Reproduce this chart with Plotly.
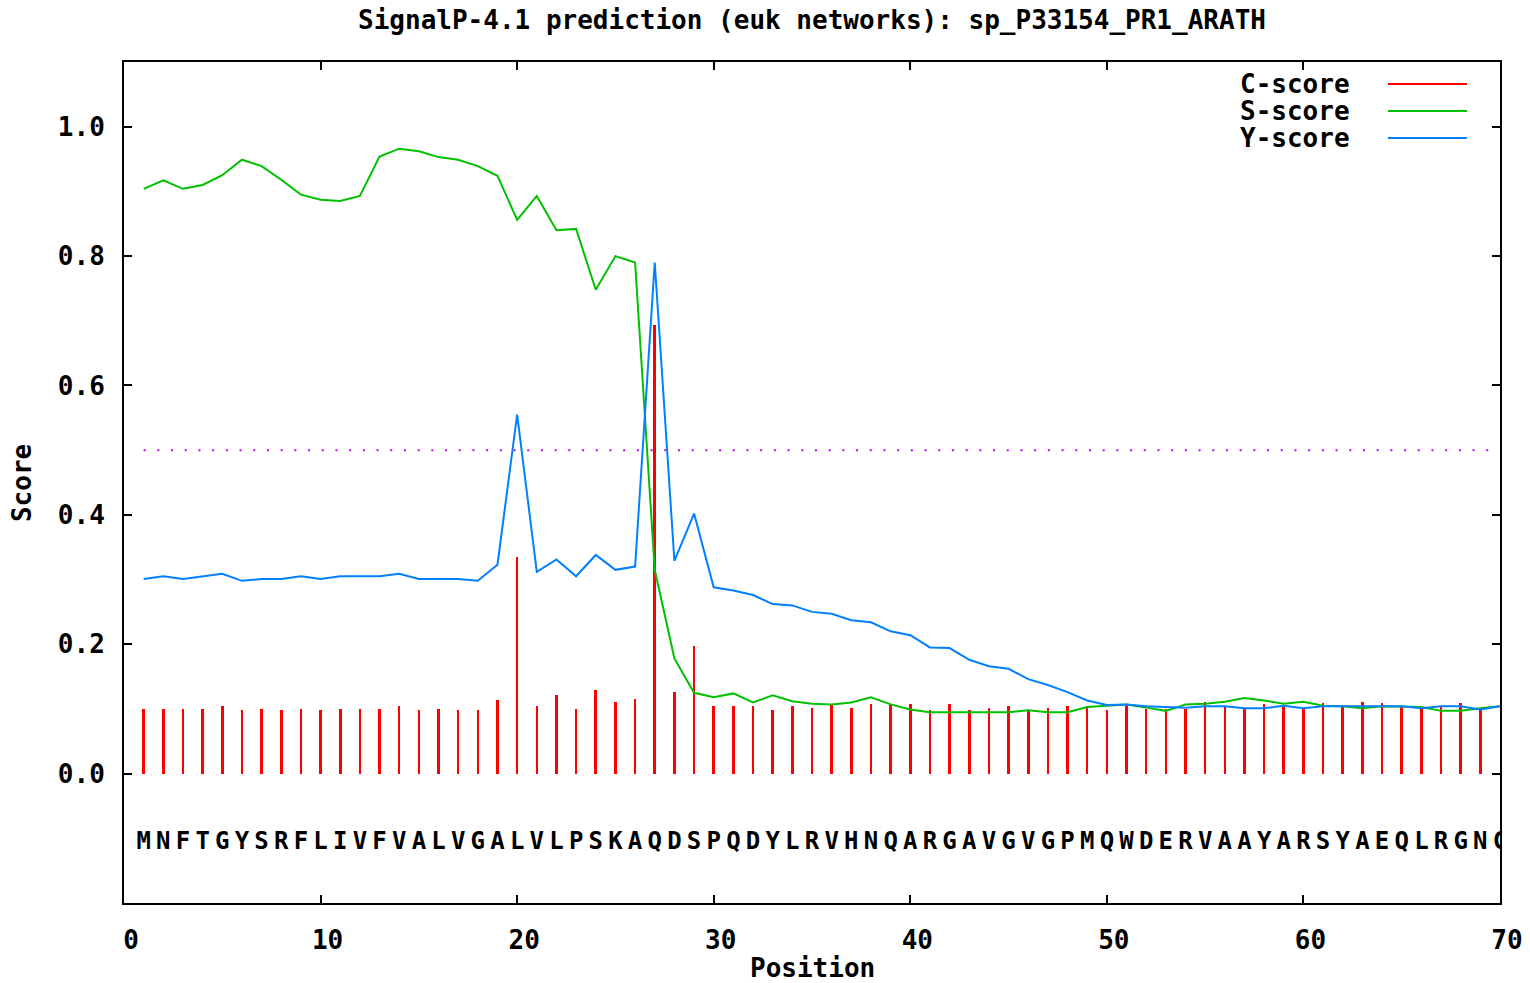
import plotly.graph_objects as go

positions = list(range(1, 71))
sequence = "MNFTGYSRFLIVFVALVGALVLPSKAQDSPQDYLRVHNQARGAVGVGPMQWDERVAAYARSYAEQLRGNC"

c_positions = list(range(1, 70))
c_score = [0.100, 0.100, 0.100, 0.100, 0.105, 0.098, 0.100, 0.098, 0.100, 0.098,
           0.100, 0.100, 0.100, 0.105, 0.098, 0.100, 0.098, 0.098, 0.114, 0.335,
           0.105, 0.121, 0.100, 0.130, 0.110, 0.116, 0.694, 0.126, 0.197, 0.105,
           0.105, 0.105, 0.099, 0.105, 0.102, 0.106, 0.102, 0.108, 0.106, 0.108,
           0.099, 0.108, 0.099, 0.102, 0.105, 0.099, 0.102, 0.105, 0.105, 0.099,
           0.104, 0.100, 0.100, 0.100, 0.111, 0.104, 0.100, 0.107, 0.104, 0.100,
           0.109, 0.104, 0.111, 0.109, 0.104, 0.100, 0.104, 0.109, 0.098]

s_score = [0.904, 0.917, 0.904, 0.910, 0.925, 0.949, 0.939, 0.918, 0.895, 0.887,
           0.885, 0.893, 0.954, 0.966, 0.962, 0.953, 0.949, 0.939, 0.924, 0.856,
           0.893, 0.840, 0.842, 0.748, 0.800, 0.790, 0.315, 0.178, 0.125, 0.118,
           0.124, 0.110, 0.121, 0.112, 0.108, 0.107, 0.110, 0.118, 0.107, 0.099,
           0.095, 0.095, 0.095, 0.095, 0.095, 0.098, 0.095, 0.095, 0.103, 0.105,
           0.107, 0.102, 0.097, 0.107, 0.108, 0.111, 0.117, 0.113, 0.108, 0.111,
           0.105, 0.104, 0.101, 0.104, 0.104, 0.103, 0.097, 0.097, 0.101, 0.104]

y_score = [0.301, 0.305, 0.301, 0.305, 0.309, 0.298, 0.301, 0.301, 0.305, 0.301,
           0.305, 0.305, 0.305, 0.309, 0.301, 0.301, 0.301, 0.298, 0.323, 0.555,
           0.312, 0.331, 0.305, 0.338, 0.315, 0.320, 0.790, 0.329, 0.402, 0.288,
           0.283, 0.276, 0.262, 0.260, 0.250, 0.247, 0.237, 0.234, 0.220, 0.214,
           0.195, 0.194, 0.176, 0.166, 0.162, 0.146, 0.137, 0.126, 0.113, 0.106,
           0.107, 0.104, 0.103, 0.102, 0.104, 0.104, 0.101, 0.101, 0.105, 0.101,
           0.104, 0.104, 0.104, 0.104, 0.104, 0.101, 0.104, 0.104, 0.099, 0.104]

threshold_x = [1, 70]
threshold_y = [0.5, 0.5]
sequence_y = -0.108

x_ticks = [0, 10, 20, 30, 40, 50, 60, 70]
y_ticks = [0.0, 0.2, 0.4, 0.6, 0.8, 1.0]
y_ticklabels = ["0.0", "0.2", "0.4", "0.6", "0.8", "1.0"]

legend_names = ["C-score", "S-score", "Y-score"]
RED, GREEN, BLUE, MAGENTA = "#ff0000", "#00c000", "#0080ff", "#c000ff"
legend_colors = [RED, GREEN, BLUE]

FONT = "DejaVu Sans Mono"
FS = 26

fig = go.Figure()

fig.add_trace(go.Bar(x=c_positions, y=c_score, width=0.13,
                     marker=dict(color=RED, line=dict(width=0)),
                     name="C-score", showlegend=False))
fig.add_trace(go.Scatter(x=positions, y=s_score, mode="lines",
                         line=dict(color=GREEN, width=2),
                         name="S-score", showlegend=False))
fig.add_trace(go.Scatter(x=positions, y=y_score, mode="lines",
                         line=dict(color=BLUE, width=2),
                         name="Y-score", showlegend=False))
fig.add_trace(go.Scatter(x=threshold_x, y=threshold_y, mode="lines",
                         line=dict(color=MAGENTA, width=2, dash="2px,11.7px"),
                         showlegend=False))
fig.add_trace(go.Scatter(x=positions, y=[sequence_y] * len(positions),
                         mode="text", text=list(sequence),
                         textposition="middle center",
                         textfont=dict(family=FONT, size=24, color="black", weight="bold"),
                         showlegend=False))

# legend (gnuplot style: label on left, sample line on right)
legend_rows_y = [0.9738, 0.9417, 0.9096]
for name, col, yy in zip(legend_names, legend_colors, legend_rows_y):
    fig.add_annotation(xref="paper", yref="paper", x=0.8924, y=yy,
                       text=name, showarrow=False, xanchor="right", yanchor="middle",
                       font=dict(family=FONT, size=FS, color="black", weight="bold"))
    fig.add_shape(type="line", xref="paper", yref="paper",
                  x0=0.9186, x1=0.976, y0=yy, y1=yy,
                  line=dict(color=col, width=2))

fig.add_annotation(xref="paper", yref="paper", x=0.5, y=-0.0773,
                   text="Position", showarrow=False, xanchor="center", yanchor="middle",
                   font=dict(family=FONT, size=FS, color="black", weight="bold"))
fig.add_annotation(xref="paper", yref="paper", x=-0.0741, y=0.4994,
                   text="Score", showarrow=False, textangle=-90,
                   xanchor="center", yanchor="middle",
                   font=dict(family=FONT, size=FS, color="black", weight="bold"))

fig.update_layout(
    width=1530, height=983,
    margin=dict(l=124, r=30, t=62, b=80, autoexpand=False),
    paper_bgcolor="white", plot_bgcolor="white",
    title=dict(text="SignalP-4.1 prediction (euk networks): sp_P33154_PR1_ARATH",
               x=0.5, xref="paper", xanchor="center",
               y=1 - 20 / 983, yref="container", yanchor="middle",
               font=dict(family=FONT, size=FS, color="black", weight="bold")),
    showlegend=False,
    bargap=0,
)
fig.update_xaxes(range=[0, 70], tickvals=x_ticks, ticktext=[str(v) for v in x_ticks],
                 automargin=False,
                 showgrid=False, zeroline=False,
                 showline=True, linecolor="black", linewidth=2, mirror="ticks",
                 ticks="inside", ticklen=8, tickwidth=2, tickcolor="black",
                 ticklabelstandoff=13, ticklabelshift=7,
                 tickfont=dict(family=FONT, size=FS, color="black", weight="bold"))
fig.update_yaxes(range=[-0.2, 1.1], tickvals=y_ticks, ticktext=y_ticklabels,
                 automargin=False,
                 showgrid=False, zeroline=False,
                 showline=True, linecolor="black", linewidth=2, mirror="ticks",
                 ticks="inside", ticklen=8, tickwidth=2, tickcolor="black",
                 ticklabelstandoff=12,
                 tickfont=dict(family=FONT, size=FS, color="black", weight="bold"))

fig.write_html("out.html")
